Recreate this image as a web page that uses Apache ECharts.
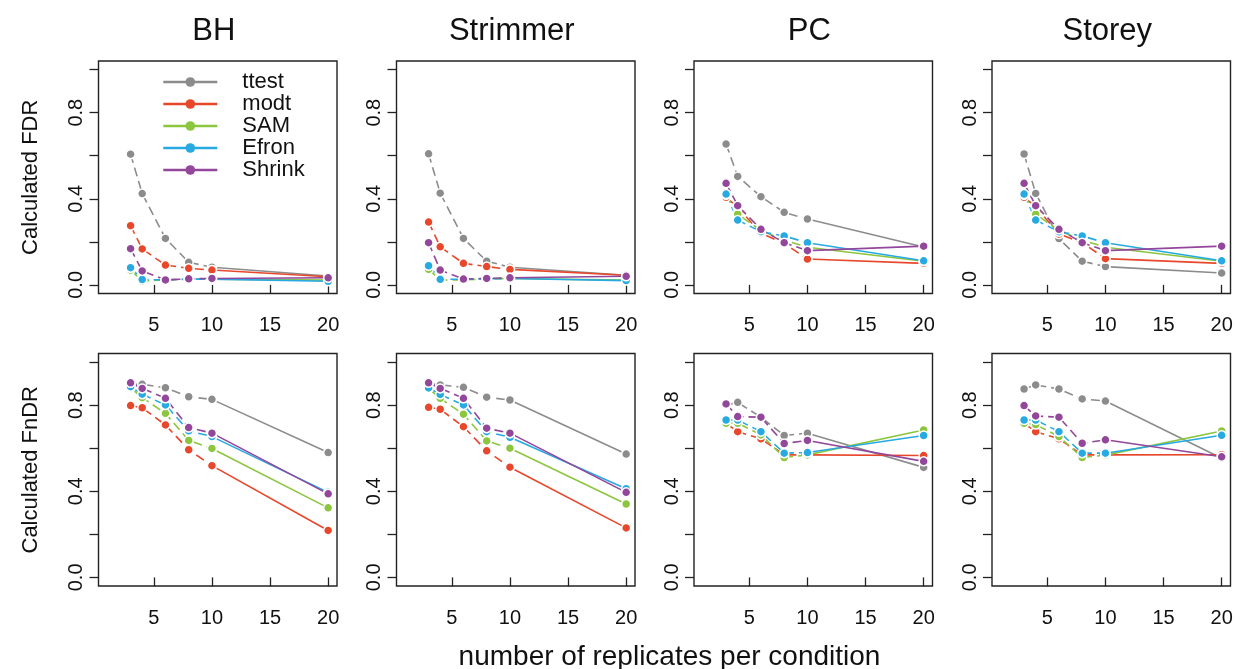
<!DOCTYPE html>
<html>
<head>
<meta charset="utf-8">
<script src="https://cdn.jsdelivr.net/npm/echarts@6/dist/echarts.min.js"></script>
<style>
html,body{margin:0;padding:0;background:#fff;}
#chart{width:1242px;height:669px;}
</style>
</head>
<body>
<div id="chart"></div>
<script>
// ---- data ----
const xValues = [3, 4, 6, 8, 10, 20];
const methods = ['ttest', 'modt', 'SAM', 'Efron', 'Shrink'];
const panelTitles = ['BH', 'Strimmer', 'PC', 'Storey'];
const rowLabels = ['Calculated FDR', 'Calculated FnDR'];
const xAxisTitle = 'number of replicates per condition';
const xTickValues = [5, 10, 15, 20];
const yTickValues = [0, 0.2, 0.4, 0.6, 0.8, 1.0];
const yLabelValues = [0, 0.4, 0.8];

// rows: ttest, modt, SAM, Efron, Shrink ; columns follow xValues
const bhFDR = [
  [0.607, 0.424, 0.216, 0.105, 0.082, 0.041],
  [0.275, 0.167, 0.092, 0.077, 0.069, 0.038],
  [0.069, 0.018, 0.023, 0.027, 0.027, 0.022],
  [0.080, 0.025, 0.023, 0.027, 0.027, 0.017],
  [0.168, 0.065, 0.023, 0.028, 0.030, 0.033]
];
const strimmerFDR = [
  [0.609, 0.426, 0.216, 0.110, 0.082, 0.045],
  [0.292, 0.177, 0.100, 0.085, 0.072, 0.045],
  [0.072, 0.023, 0.023, 0.027, 0.030, 0.022],
  [0.089, 0.026, 0.026, 0.028, 0.030, 0.020],
  [0.196, 0.069, 0.027, 0.030, 0.033, 0.040]
];
const pcFDR = [
  [0.654, 0.504, 0.410, 0.337, 0.306, 0.176],
  [0.407, 0.360, 0.240, 0.193, 0.120, 0.100],
  [0.418, 0.329, 0.252, 0.208, 0.175, 0.110],
  [0.422, 0.301, 0.247, 0.227, 0.196, 0.112],
  [0.472, 0.368, 0.258, 0.196, 0.159, 0.180]
];
const storeyFDR = [
  [0.608, 0.425, 0.215, 0.110, 0.085, 0.055],
  [0.407, 0.363, 0.236, 0.196, 0.122, 0.100],
  [0.418, 0.329, 0.252, 0.208, 0.175, 0.110],
  [0.422, 0.301, 0.247, 0.227, 0.196, 0.112],
  [0.472, 0.368, 0.258, 0.196, 0.159, 0.180]
];
const bhFnDR = [
  [0.897, 0.897, 0.881, 0.839, 0.827, 0.580],
  [0.798, 0.788, 0.708, 0.593, 0.519, 0.218],
  [0.881, 0.835, 0.762, 0.636, 0.599, 0.323],
  [0.886, 0.851, 0.801, 0.681, 0.654, 0.395],
  [0.904, 0.878, 0.832, 0.696, 0.670, 0.388]
];
const strimmerFnDR = [
  [0.901, 0.894, 0.883, 0.837, 0.824, 0.573],
  [0.790, 0.781, 0.700, 0.588, 0.512, 0.230],
  [0.877, 0.832, 0.758, 0.634, 0.600, 0.341],
  [0.880, 0.850, 0.801, 0.677, 0.651, 0.412],
  [0.904, 0.878, 0.832, 0.693, 0.670, 0.395]
];
const pcFnDR = [
  [0.800, 0.813, 0.744, 0.659, 0.670, 0.511],
  [0.715, 0.677, 0.644, 0.569, 0.569, 0.566],
  [0.716, 0.716, 0.662, 0.557, 0.569, 0.685],
  [0.731, 0.731, 0.677, 0.577, 0.580, 0.659],
  [0.806, 0.747, 0.744, 0.622, 0.636, 0.539]
];
const storeyFnDR = [
  [0.875, 0.894, 0.875, 0.829, 0.819, 0.553],
  [0.715, 0.677, 0.644, 0.569, 0.569, 0.570],
  [0.716, 0.710, 0.654, 0.557, 0.568, 0.680],
  [0.731, 0.731, 0.677, 0.577, 0.577, 0.660],
  [0.798, 0.750, 0.744, 0.623, 0.639, 0.560]
];
const panels = [bhFDR, strimmerFDR, pcFDR, storeyFDR, bhFnDR, strimmerFnDR, pcFnDR, storeyFnDR];

// ---- styles / layout ----
const colors = ['#8c8c8c', '#e8472b', '#8cc63e', '#27a9e1', '#92479b'];
const FONT = 'Liberation Sans, Arial, Helvetica, sans-serif';
const colLeft = [98.5, 396.5, 694, 992];
const panelW = 238.5;
const rowTop = [61, 353.5];
const panelH = 232.5;

const grids = [], xAxes = [], yAxes = [], series = [];
panels.forEach((pdata, p) => {
  const r = Math.floor(p / 4), c = p % 4;
  grids.push({
    left: colLeft[c], top: rowTop[r], width: panelW, height: panelH,
    show: true, borderColor: '#222', borderWidth: 1.4, backgroundColor: 'transparent'
  });
  xAxes.push({
    type: 'value', gridIndex: p, min: 0.24, max: 20.76,
    axisLine: {show: false}, splitLine: {show: false},
    axisTick: {show: true, inside: false, length: 9, customValues: xTickValues,
      lineStyle: {color: '#222', width: 1.3}},
    axisLabel: {show: true, customValues: xTickValues, fontSize: 20, color: '#111',
      fontFamily: FONT, margin: 22}
  });
  yAxes.push({
    type: 'value', gridIndex: p, min: -0.04, max: 1.04,
    axisLine: {show: false}, splitLine: {show: false},
    axisTick: {show: true, inside: false, length: 9, customValues: yTickValues,
      lineStyle: {color: '#222', width: 1.3}},
    axisLabel: {show: true, customValues: yLabelValues, rotate: 90, fontSize: 20,
      color: '#111', fontFamily: FONT, margin: 12,
      formatter: v => Number(v).toFixed(1)}
  });
  pdata.forEach((vals, m) => {
    const common = {
      type: 'line', xAxisIndex: p, yAxisIndex: p,
      symbol: 'circle', symbolSize: 9, showSymbol: true,
      itemStyle: {color: colors[m], borderColor: '#fff', borderWidth: 1.5},
      animation: false, silent: true
    };
    // solid part (10..20)
    series.push(Object.assign({}, common, {
      name: methods[m],
      data: [[xValues[4], vals[4]], [xValues[5], vals[5]]],
      lineStyle: {color: colors[m], width: 1.6, type: 'solid'}
    }));
    // dashed part (3..10)
    series.push(Object.assign({}, common, {
      name: methods[m] + ' (3-10)',
      data: xValues.slice(0, 5).map((x, i) => [x, vals[i]]),
      lineStyle: {color: colors[m], width: 1.6, type: [9, 5]}
    }));
  });
});

const titles = panelTitles.map((t, c) => ({
  text: t, left: colLeft[c] + panelW / 2 - 9, top: 11, textAlign: 'center',
  textStyle: {fontSize: 31, fontWeight: 'normal', color: '#111', fontFamily: FONT}
}));
titles.push({
  text: xAxisTitle, left: (colLeft[0] + colLeft[3] + panelW) / 2, top: 638, textAlign: 'center',
  textStyle: {fontSize: 28, fontWeight: 'normal', color: '#111', fontFamily: FONT}
});

const graphics = rowLabels.map((t, r) => ({
  type: 'text', x: 31, y: rowTop[r] + panelH / 2, rotation: Math.PI / 2,
  style: {text: t, fontSize: 22, fontFamily: FONT, fill: '#111',
    textAlign: 'center', textVerticalAlign: 'middle'}
}));

const chart = echarts.init(document.getElementById('chart'), null, {renderer: 'canvas'});
chart.setOption({
  backgroundColor: '#fff',
  animation: false,
  title: titles,
  grid: grids,
  xAxis: xAxes,
  yAxis: yAxes,
  series: series,
  graphic: graphics,
  legend: {
    data: methods, orient: 'vertical', left: 162, top: 71, padding: 0,
    itemWidth: 54, itemHeight: 12, itemGap: 0,
    lineStyle: {type: 'solid', width: 2.6},
    itemStyle: {borderWidth: 0},
    textStyle: {fontSize: 22, color: '#111', fontFamily: FONT, lineHeight: 20.5, padding: [0, 0, 0, 20]},
    selectedMode: false
  }
});
</script>
</body>
</html>
